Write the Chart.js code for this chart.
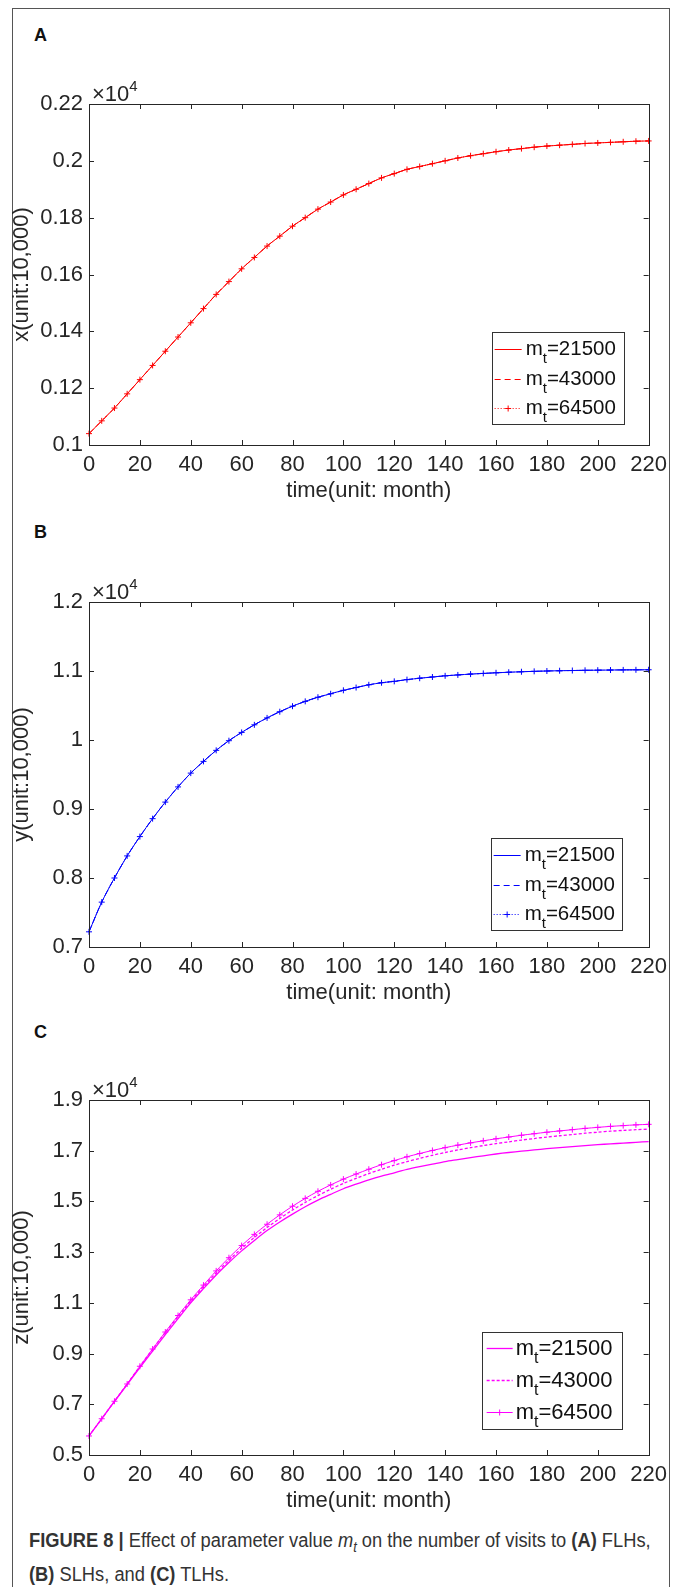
<!DOCTYPE html>
<html>
<head>
<meta charset="utf-8">
<script src="https://cdn.jsdelivr.net/npm/chart.js@4.4.0/dist/chart.umd.min.js"></script>
<style>
  html, body { margin: 0; padding: 0; background: #fff; }
  body { width: 674px; height: 1587px; position: relative; overflow: hidden; font-family: "Liberation Sans", Arial, sans-serif; }
  #frame { position: absolute; left: 12px; top: 8px; width: 658px; height: 1600px; border: 1px solid #555; box-sizing: border-box; }
  .panel-label { position: absolute; left: 34px; font: bold 18px "Liberation Sans", Arial, sans-serif; line-height: 20px; color: #111; }
  canvas { position: absolute; left: 0; }
  #caption { position: absolute; left: 29px; top: 1527px; white-space: nowrap; font-size: 20px; line-height: 26.5px; color: #333;
             font-family: "Liberation Sans", Arial, sans-serif; transform: scaleX(0.915); transform-origin: 0 0; }
  #caption b { font-weight: bold; }
</style>
</head>
<body>
<div id="frame"></div>
<div class="panel-label" style="top:25px">A</div>
<div class="panel-label" style="top:522px">B</div>
<div class="panel-label" style="top:1022px">C</div>
<canvas id="chartA" width="674" height="443" style="top:64px"></canvas>
<canvas id="chartB" width="674" height="447" style="top:562px"></canvas>
<canvas id="chartC" width="674" height="457" style="top:1060px"></canvas>
<div id="caption"><b>FIGURE 8 |</b> Effect of parameter value <i>m<sub style="font-size:14px">t</sub></i> on the number of visits to <b>(A)</b> FLHs,<br><b>(B)</b> SLHs, and <b>(C)</b> TLHs.</div>

<script>
// time axis (months)
const months = [0,5,10,15,20,25,30,35,40,45,50,55,60,65,70,75,80,85,90,95,100,105,110,
  115,120,125,130,135,140,145,150,155,160,165,170,175,180,185,190,195,200,205,210,215,220];
const xTicks = [0,20,40,60,80,100,120,140,160,180,200,220];
const mtValues = [21500, 43000, 64500];

// panel A: the three m_t curves lie on top of each other
const xVisits = [0.104,0.1085,0.113,0.118,0.123,0.128,0.133,0.138,0.143,0.148,0.153,0.1575,0.162,0.166,
  0.170,0.1735,0.177,0.180,0.183,0.1855,0.188,0.190,0.192,0.194,0.1955,0.197,0.198,0.199,0.200,0.201,
  0.2018,0.2025,0.2032,0.2038,0.2043,0.2048,0.2052,0.2055,0.2058,0.2061,0.2063,0.2065,0.2067,0.2069,0.207];
const yTicksA = [0.1,0.12,0.14,0.16,0.18,0.2,0.22];

// panel B: same, curves overlap
const yVisits = [0.722,0.765,0.80,0.832,0.86,0.886,0.91,0.932,0.952,0.969,0.985,0.999,1.011,1.022,
  1.032,1.041,1.049,1.056,1.062,1.067,1.072,1.076,1.08,1.083,1.085,1.0875,1.0895,1.0913,1.093,1.0943,
  1.0955,1.0965,1.0974,1.0982,1.0989,1.0995,1.1,1.1004,1.1007,1.101,1.1012,1.1014,1.1016,1.1017,1.1018];
const yTicksB = [0.7,0.8,0.9,1,1.1,1.2];

// panel C: curves separate after ~50 months
const zVisits21500 = [0.575,0.643,0.711,0.778,0.845,0.91,0.975,1.038,1.10,1.156,1.21,1.259,1.305,1.346,
  1.385,1.419,1.45,1.479,1.505,1.528,1.55,1.568,1.585,1.6,1.613,1.626,1.637,1.647,1.657,1.665,
  1.673,1.68,1.687,1.693,1.698,1.703,1.708,1.712,1.716,1.72,1.724,1.727,1.73,1.733,1.736];
const zVisits43000 = [0.575,0.643,0.712,0.78,0.85,0.917,0.983,1.046,1.107,1.164,1.218,1.268,1.315,1.358,
  1.397,1.433,1.466,1.496,1.523,1.548,1.571,1.591,1.61,1.627,1.643,1.657,1.67,1.682,1.693,1.703,
  1.712,1.72,1.728,1.735,1.742,1.748,1.754,1.759,1.764,1.769,1.773,1.777,1.78,1.783,1.785];
const zVisits64500 = [0.575,0.643,0.712,0.78,0.85,0.918,0.985,1.05,1.112,1.17,1.226,1.278,1.326,1.37,
  1.41,1.447,1.481,1.512,1.54,1.565,1.588,1.608,1.627,1.645,1.661,1.676,1.689,1.701,1.712,1.722,
  1.731,1.739,1.747,1.754,1.761,1.767,1.773,1.778,1.783,1.788,1.792,1.796,1.799,1.802,1.804];
const yTicksC = [0.5,0.7,0.9,1.1,1.3,1.5,1.7,1.9];

const FONT = '"Liberation Sans", Arial, sans-serif';
const AXIS_COLOR = '#262626';
const TICK_FONT = 22;

function toPoints(values) {
  return months.map((m, i) => ({ x: m, y: values[i] }));
}

// matlab look: box, inward ticks on all sides, x10^4 note, boxed legend
const matlabAxes = {
  id: 'matlabAxes',
  afterDatasetsDraw(chart, args, opts) {
    const ctx = chart.ctx;
    const ca = chart.chartArea;
    const xs = chart.scales.x, ys = chart.scales.y;
    ctx.save();
    ctx.strokeStyle = AXIS_COLOR;
    ctx.lineWidth = 1;
    ctx.strokeRect(Math.round(ca.left) + 0.5, Math.round(ca.top) + 0.5,
      Math.round(ca.right - ca.left), Math.round(ca.bottom - ca.top));
    const tl = 5;
    ctx.beginPath();
    xs.ticks.forEach(t => {
      const px = Math.round(xs.getPixelForValue(t.value)) + 0.5;
      ctx.moveTo(px, ca.bottom); ctx.lineTo(px, ca.bottom - tl);
      ctx.moveTo(px, ca.top); ctx.lineTo(px, ca.top + tl);
    });
    ys.ticks.forEach(t => {
      const py = Math.round(ys.getPixelForValue(t.value)) + 0.5;
      ctx.moveTo(ca.left, py); ctx.lineTo(ca.left + tl, py);
      ctx.moveTo(ca.right, py); ctx.lineTo(ca.right - tl, py);
    });
    ctx.stroke();

    // exponent note
    ctx.fillStyle = AXIS_COLOR;
    ctx.textBaseline = 'alphabetic';
    ctx.font = TICK_FONT + 'px ' + FONT;
    ctx.fillText('\u00d710', ca.left + 3, ca.top - 3);
    const w = ctx.measureText('\u00d710').width;
    ctx.font = '15px ' + FONT;
    ctx.fillText('4', ca.left + 3 + w, ca.top - 13);

    // legend
    const lg = opts.legend;
    const n = chart.data.datasets.length;
    const boxRight = ca.right - lg.right;
    const boxLeft = boxRight - lg.width;
    const boxBottom = ca.bottom - lg.bottom;
    const lastRow = boxBottom - lg.botPad;
    const firstRow = lastRow - (n - 1) * lg.rowH;
    const boxTop = firstRow - lg.topPad;
    ctx.fillStyle = '#fff';
    ctx.fillRect(boxLeft, boxTop, lg.width, boxBottom - boxTop);
    ctx.strokeStyle = '#333';
    ctx.strokeRect(Math.round(boxLeft) + 0.5, Math.round(boxTop) + 0.5,
      Math.round(lg.width), Math.round(boxBottom - boxTop));
    chart.data.datasets.forEach((ds, i) => {
      const y = Math.round(firstRow + i * lg.rowH) + 0.5;
      const x0 = boxLeft + lg.lineX0, x1 = boxLeft + lg.lineX1;
      ctx.strokeStyle = ds.borderColor;
      ctx.lineWidth = ds.borderWidth;
      ctx.setLineDash(ds.borderDash || []);
      ctx.beginPath(); ctx.moveTo(x0, y); ctx.lineTo(x1, y); ctx.stroke();
      ctx.setLineDash([]);
      if (ds.pointRadius > 0) {
        const mx = (x0 + x1) / 2, r = ds.pointRadius;
        ctx.lineWidth = 1;
        ctx.beginPath();
        ctx.moveTo(mx - r, y); ctx.lineTo(mx + r, y);
        ctx.moveTo(mx, y - r); ctx.lineTo(mx, y + r);
        ctx.stroke();
      }
      const tx = boxLeft + lg.textX;
      ctx.fillStyle = '#111';
      ctx.textBaseline = 'middle';
      ctx.font = lg.font + 'px ' + FONT;
      ctx.fillText('m', tx, y);
      const mw = ctx.measureText('m').width;
      ctx.font = Math.round(lg.font * 0.72) + 'px ' + FONT;
      ctx.fillText('t', tx + mw, y + lg.font * 0.45);
      const tw = ctx.measureText('t').width;
      ctx.font = lg.font + 'px ' + FONT;
      ctx.fillText('=' + mtValues[i], tx + mw + tw, y);
    });
    ctx.restore();
  }
};

function makePanel(canvasId, cfg) {
  const datasets = cfg.series.map((values, i) => ({
    label: 'm_t=' + mtValues[i],
    data: toPoints(values),
    borderColor: cfg.color,
    backgroundColor: cfg.color,
    borderWidth: cfg.styles[i].width,
    borderDash: cfg.styles[i].dash,
    pointRadius: cfg.styles[i].marker ? 3 : 0,
    pointStyle: 'cross',
    pointBorderWidth: 1,
    fill: false,
    tension: 0.3,
    clip: 4
  }));

  return new Chart(document.getElementById(canvasId), {
    type: 'line',
    data: { datasets },
    plugins: [matlabAxes],
    options: {
      responsive: false,
      animation: false,
      devicePixelRatio: 1,
      layout: { padding: { top: 40, right: 25, left: 0, bottom: 0 } },
      scales: {
        x: {
          type: 'linear',
          min: 0, max: 220,
          afterBuildTicks: s => { s.ticks = xTicks.map(v => ({ value: v })); },
          afterFit: s => { s.height = 62; },
          grid: { display: false, drawTicks: false },
          border: { display: false },
          ticks: { color: AXIS_COLOR, font: { family: FONT, size: TICK_FONT }, padding: 7, maxRotation: 0 },
          title: { display: true, text: 'time(unit: month)', color: AXIS_COLOR,
                   font: { family: FONT, size: TICK_FONT }, padding: { top: 0, bottom: 3 } }
        },
        y: {
          type: 'linear',
          min: cfg.yTicks[0], max: cfg.yTicks[cfg.yTicks.length - 1],
          afterBuildTicks: s => { s.ticks = cfg.yTicks.map(v => ({ value: v })); },
          afterFit: s => { s.width = 89; },
          grid: { display: false, drawTicks: false },
          border: { display: false },
          ticks: { color: AXIS_COLOR, font: { family: FONT, size: TICK_FONT }, padding: 6,
                   callback: v => String(Number(v.toFixed(2))) },
          title: { display: true, text: cfg.yTitle, color: AXIS_COLOR,
                   font: { family: FONT, size: TICK_FONT }, padding: { top: 9, bottom: 0 } }
        }
      },
      plugins: {
        legend: { display: false },
        tooltip: { enabled: false },
        matlabAxes: { legend: cfg.legend }
      }
    }
  });
}

makePanel('chartA', {
  series: [xVisits, xVisits, xVisits],
  color: '#ff0000',
  yTicks: yTicksA,
  yTitle: 'x(unit:10,000)',
  styles: [{ width: 1, dash: [] }, { width: 1, dash: [6, 4] }, { width: 1, dash: [1, 2], marker: true }],
  legend: { right: 25, bottom: 21, width: 132, rowH: 29.5, topPad: 17, botPad: 16, lineX0: 3, lineX1: 30, textX: 34, font: 20.5 }
});

makePanel('chartB', {
  series: [yVisits, yVisits, yVisits],
  color: '#0000ff',
  yTicks: yTicksB,
  yTitle: 'y(unit:10,000)',
  styles: [{ width: 1, dash: [] }, { width: 1, dash: [6, 4] }, { width: 1, dash: [1, 2], marker: true }],
  legend: { right: 27, bottom: 17, width: 131, rowH: 29.5, topPad: 17, botPad: 16, lineX0: 3, lineX1: 30, textX: 34, font: 20.5 }
});

makePanel('chartC', {
  series: [zVisits21500, zVisits43000, zVisits64500],
  color: '#ff00ff',
  yTicks: yTicksC,
  yTitle: 'z(unit:10,000)',
  styles: [{ width: 1.3, dash: [] }, { width: 1.3, dash: [3, 2] }, { width: 1, dash: [], marker: true }],
  legend: { right: 27, bottom: 26, width: 140, rowH: 32, topPad: 16, botPad: 17, lineX0: 5, lineX1: 31, textX: 34, font: 22 }
});
</script>
</body>
</html>
